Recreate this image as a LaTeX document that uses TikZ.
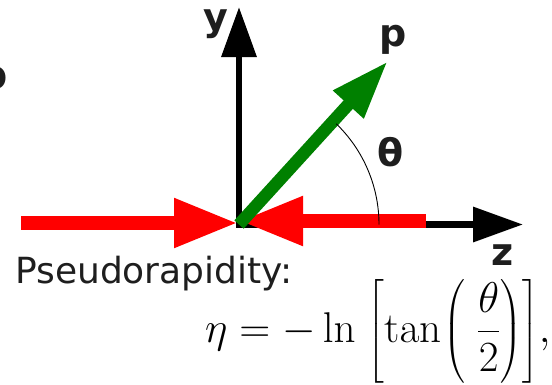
\RequirePackage{fix-cm}
\documentclass[tikz,border=0pt]{standalone}
\usepackage{amsmath}
\usepackage[no-math]{fontspec}
\newfontfamily\djv{DejaVu Sans}
\usetikzlibrary{arrows.meta}
\definecolor{txt}{HTML}{1E1E1E}
\definecolor{pgreen}{HTML}{008000}
\definecolor{pred}{HTML}{FF0000}
\tikzset{
  axis/.style={line width=6.5pt, line cap=rect, -{Triangle[length=50pt,width=34pt]}},
  beam/.style={pred, line width=14pt, -{Triangle[length=64pt,width=46pt]}},
  mom/.style={pgreen, line width=12.5pt, -{Triangle[length=59pt,width=38pt]}},
  lbl/.style={font=\djv\bfseries\fontsize{38}{40}\selectfont, text=txt, inner sep=0pt},
}
\begin{document}
\begin{tikzpicture}[x=1pt,y=-1pt]
\useasboundingbox (0,0) rectangle (552,384);
\clip (0,0) rectangle (552,384);
\coordinate (O) at (239,224.5);
\coordinate (Ol) at (238,223);
\coordinate (Or) at (239,221);
\coordinate (ytip) at (239,7);
\coordinate (ztip) at (523,224.5);
\coordinate (lstart) at (21,223);
\coordinate (rstart) at (426,221);
\coordinate (ptip) at (388,61);
% axes
\draw[axis] (O) -- (ytip);
\draw[axis] (O) -- (ztip);
% beams
\draw[beam] (lstart) -- (Ol);
\draw[beam] (rstart) -- (Or);
% momentum
\draw[mom] (O) -- (ptip);
% angle arc
\draw[line width=0.9pt] (O) ++(0:140) arc[start angle=0, end angle=-46, radius=140];
% labels
\node[lbl, anchor=base] (ylab) at (216,30) {y};
\node[lbl, anchor=base] (zlab) at (503,265) {z};
\node[lbl, anchor=base] (plab) at (393,46) {p};
\node[lbl, anchor=base] (plab2) at (-6,88) {p};
\node[lbl, anchor=base] (thlab) at (391,166) {θ};
\node[font=\djv\fontsize{36}{40}\selectfont, text=txt, inner sep=0pt, anchor=base west] (pseudo) at (15,283) {Pseudorapidity:};
\node[font=\fontsize{43}{48}\selectfont, inner sep=0pt, anchor=base west] (eq) at (205,342)
  {$\displaystyle \eta = -\ln\;\biggl[\tan\mskip1mu\biggl(\;\frac{\theta}{2}\biggr)\biggr],$};
\end{tikzpicture}
\end{document}
